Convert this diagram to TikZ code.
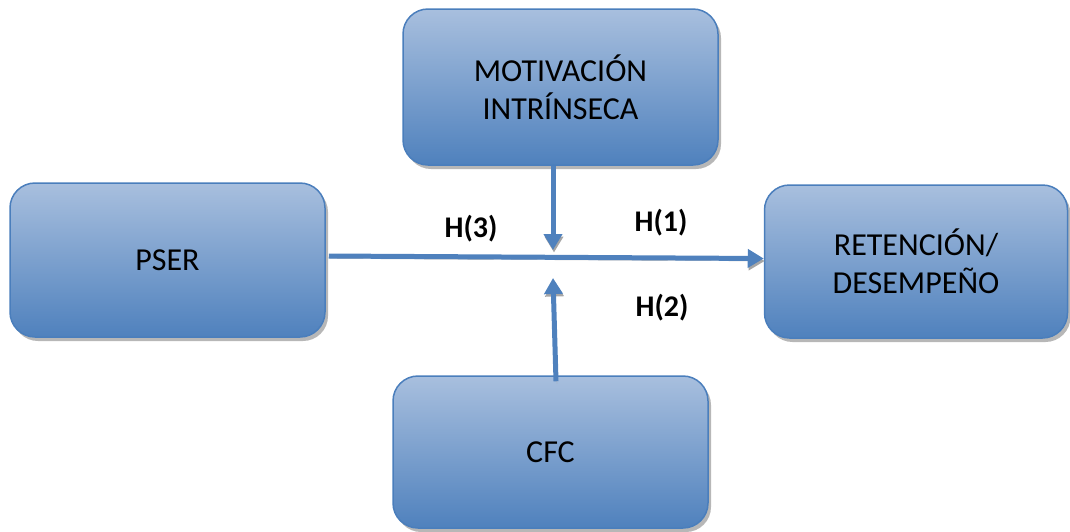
\documentclass[tikz,border=0pt]{standalone}
\usepackage{fontspec}
\setmainfont{Carlito}
\usetikzlibrary{arrows.meta,shadows}
\definecolor{boxtop}{RGB}{168,191,222}
\definecolor{boxbot}{RGB}{79,129,189}
\definecolor{boxedge}{RGB}{74,126,188}
\definecolor{arrowc}{RGB}{79,129,189}
\tikzset{
  block/.style={rectangle, rounded corners=25pt, draw=boxedge, line width=1.5pt,
    top color=boxtop, bottom color=boxbot, align=center,
    font=\fontsize{32}{38}\selectfont, text=black,
    drop shadow={shadow xshift=3pt, shadow yshift=-4pt, fill=black!40, opacity=0.7}},
  link/.style={draw=arrowc, line width=5pt, -{Triangle[length=16pt,width=18pt]},
    preaction={draw=black!35, transform canvas={xshift=1pt,yshift=-2.5pt}}},
  hlabel/.style={font=\fontsize{30}{34}\selectfont\bfseries, text=black}
}
\begin{document}
\begin{tikzpicture}[x=1pt,y=-1pt]
\useasboundingbox (0,0) rectangle (1070,531);
\node[block, minimum width=315pt, minimum height=154pt] (PSER) at (167.5,260) {PSER};
\node[block, minimum width=315pt, minimum height=156pt] (MOT) at (560.5,87) {MOTIVACIÓN\\INTRÍNSECA};
\node[block, minimum width=315pt, minimum height=152pt] (CFC) at (550.5,452) {CFC};
\node[block, minimum width=303pt, minimum height=153pt] (RET) at (916,261.5) {RETENCIÓN/\\DESEMPEÑO};
\coordinate (mtop) at (553,250);
\coordinate (mbot) at (553,278);
\draw[link] ([xshift=3pt,yshift=4pt]PSER.east) -- ([yshift=3pt]RET.west);
\draw[link] ([xshift=-7.5pt]MOT.south) -- (mtop);
\draw[link] ([xshift=5.5pt,yshift=-6pt]CFC.north) -- (mbot);
\node[hlabel] (H3) at (471,229) {H(3)};
\node[hlabel] (H1) at (661,223) {H(1)};
\node[hlabel] (H2) at (662,308) {H(2)};
\end{tikzpicture}
\end{document}
